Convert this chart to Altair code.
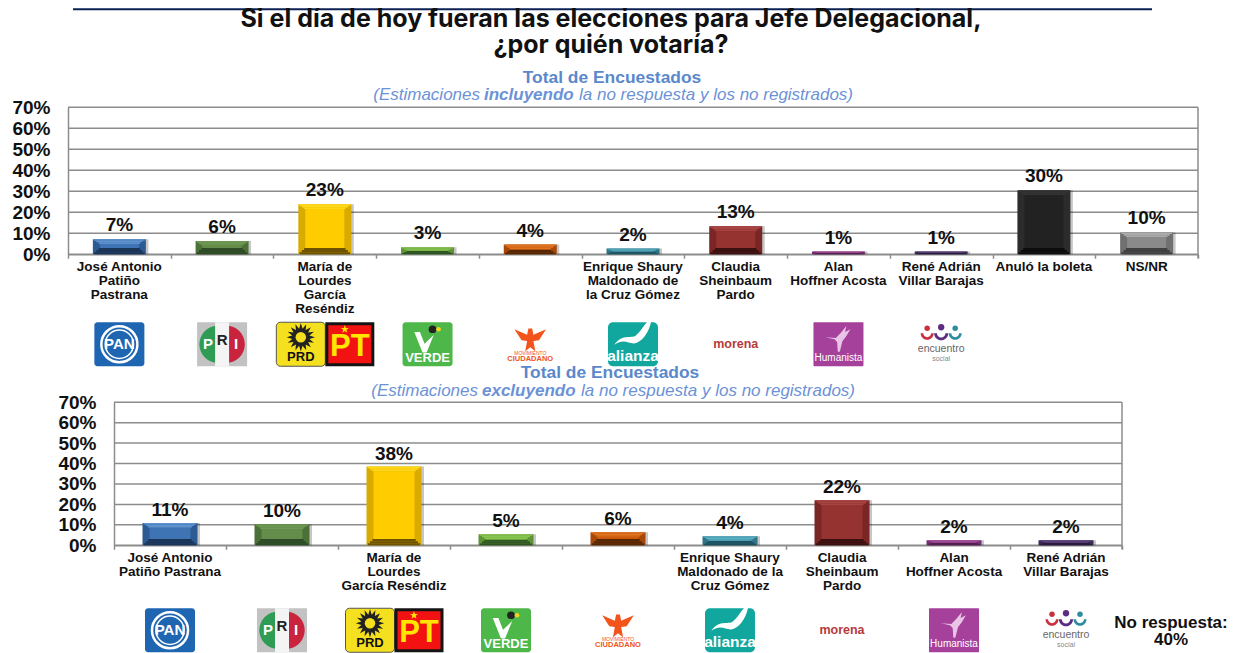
import math
import altair as alt
import pandas as pd

# ---------- data ----------
keys_top = ["PAN", "PRI", "PRDPT", "VERDE", "MC", "ALIANZA", "MORENA", "HUMANISTA", "ENCUENTRO", "ANULO", "NSNR"]
names_top = ["José Antonio\nPatiño\nPastrana", "", "María de\nLourdes\nGarcía\nReséndiz", "", "",
             "Enrique Shaury\nMaldonado de\nla Cruz Gómez", "Claudia\nSheinbaum\nPardo", "Alan\nHoffner Acosta",
             "René Adrián\nVillar Barajas", "Anuló la boleta", "NS/NR"]
values_top = [7.2, 6.3, 23.8, 3.3, 4.6, 2.7, 13.3, 1.3, 1.3, 30.5, 10.4]
labels_top = ["7%", "6%", "23%", "3%", "4%", "2%", "13%", "1%", "1%", "30%", "10%"]

keys_bot = keys_top[:9]
names_bot = ["José Antonio\nPatiño Pastrana", "", "María de\nLourdes\nGarcía Reséndiz", "", "",
             "Enrique Shaury\nMaldonado de la\nCruz Gómez", "Claudia\nSheinbaum\nPardo", "Alan\nHoffner Acosta",
             "René Adrián\nVillar Barajas"]
values_bot = [10.9, 10.3, 38.5, 5.4, 6.4, 4.4, 22.0, 2.4, 2.4]
labels_bot = ["11%", "10%", "38%", "5%", "6%", "4%", "22%", "2%", "2%"]
grid_values = [0, 10, 20, 30, 40, 50, 60, 70]

# bevel colours per party: main, top, bottom, side
palette = {
    "PAN": ("#3E74B4", "#5F93CF", "#1B3557", "#2C5A92"),
    "PRI": ("#648C4A", "#6F9A55", "#2E4A26", "#4B7038"),
    "PRDPT": ("#FFCC00", "#FFD91A", "#6E5200", "#D9AB00"),
    "VERDE": ("#78B144", "#88C652", "#2F5424", "#5E9435"),
    "MC": ("#CC5A0C", "#E2741F", "#552705", "#A84808"),
    "ALIANZA": ("#3E8DA3", "#5AAFC2", "#1D4F5E", "#317488"),
    "MORENA": ("#953331", "#A84441", "#3B1110", "#7A2624"),
    "HUMANISTA": ("#8E3D88", "#A5509E", "#4A1B46", "#752F70"),
    "ENCUENTRO": ("#4B3568", "#5E4680", "#241738", "#3B2953"),
    "ANULO": ("#222222", "#333333", "#0C0C0C", "#2C2C2C"),
    "NSNR": ("#8A8A8A", "#ABABAB", "#404040", "#707070"),
}

TXT = "#111111"
BLUE = "#5B88CB"
BLUE_I = "#6C92D6"
GRID = "#8C8C8C"
FONT = "Liberation Sans"
one = pd.DataFrame({"n": [0]})

X_AXIS = alt.Axis(labels=False, tickBand="extent", tickSize=4, tickColor=GRID, tickWidth=1.5,
                  domainColor=GRID, domainWidth=1.5, title=None, grid=False)


def y_axis(extent, offset):
    return alt.Axis(values=grid_values, labelExpr="datum.value + '%'", title=None, offset=offset,
                    tickSize=0, labelPadding=18, labelFont=FONT, labelFontSize=19, labelFontWeight="bold",
                    labelColor=TXT, grid=False,
                    domainColor=GRID, domainWidth=1.5, minExtent=extent, maxExtent=extent)


def table(keys, names, values, labels):
    return pd.DataFrame({
        "key": keys, "name": names, "value": values, "label": labels,
        "main": [palette[k][0] for k in keys], "top": [palette[k][1] for k in keys],
        "bottom": [palette[k][2] for k in keys], "side": [palette[k][3] for k in keys],
    })


def txt(t, x, y, size=12, color=TXT, bold=False, italic=False, align="center", baseline="middle", font=FONT):
    return alt.Chart(one).mark_text(
        text=t, font=font, fontSize=size, color=color,
        fontWeight="bold" if bold else "normal", fontStyle="italic" if italic else "normal",
        align=align, baseline=baseline,
    ).encode(x=alt.value(x), y=alt.value(y))


def star(n, r1=1.0, r2=0.62):
    pts = []
    for i in range(2 * n):
        r = r1 if i % 2 == 0 else r2
        a = math.pi * i / n
        pts.append(f"{r * math.sin(a):.3f},{-r * math.cos(a):.3f}")
    return "M" + " L".join(pts) + " Z"


HALF_L = "M0,-1 A1,1 0 0 0 0,1 Z"
HALF_R = "M0,-1 A1,1 0 0 1 0,1 Z"
HALF_D = "M-1,0 A1,1 0 0 0 1,0 L0.6,0 A0.6,0.6 0 0 1 -0.6,0 Z"
SWOOSH = "M-1,0.45 C-0.6,-0.1 -0.2,0.1 0.1,0 C0.4,-0.2 0.7,-0.8 1,-1 C0.95,-0.4 0.6,0.2 0.2,0.35 C-0.2,0.5 -0.4,0.05 -1,0.45 Z"
CHECK = "M-1,-1 L-0.45,-1 L0,0.15 L0.9,-0.7 L0.2,1 L-0.2,1 Z"
EAGLE = "M-1,-0.7 L-0.2,-0.35 L-0.12,-0.75 L0.12,-0.75 L0.2,-0.35 L1,-0.7 L0.55,0 L0.2,0.05 L0.32,0.7 L0,0.45 L-0.32,0.7 L-0.2,0.05 L-0.55,0 Z"
BIRD = "M-1,-0.15 L-0.2,-0.1 L0.15,-0.45 L0.6,-1 L0.5,-0.55 L0.9,-0.75 L0.6,-0.25 L0.3,0.15 L0.1,0.95 L-0.05,0.95 L-0.1,0.2 L-0.3,0 Z"


def logos(keys, xs, ly, h):
    df = pd.DataFrame({"key": keys})
    xe = alt.X("key:N", scale=xs, axis=X_AXIS)
    at = lambda k: alt.Chart(df[df.key == k])

    def box(k, color, w=50, off=0, y0=0, y1=h, r=3, **kw):
        return at(k).mark_bar(size=w, xOffset=off, color=color, cornerRadius=r, **kw).encode(
            x=xe, y=alt.value(ly + y0), y2=alt.value(ly + y1))

    def lab(k, t, dy, size, color, bold=True, dx=0):
        return at(k).mark_text(text=t, font=FONT, fontSize=size, color=color, dx=dx,
                               fontWeight="bold" if bold else "normal",
                               baseline="middle", align="center").encode(x=xe, y=alt.value(ly + dy))

    def sym(k, shape, size, dy, color=None, off=0, stroke=None, sw=1):
        kw = {"filled": True, "fill": color, "opacity": 1, "strokeWidth": 0} if color else {
            "filled": False, "stroke": stroke, "strokeWidth": sw, "opacity": 1}
        return at(k).mark_point(shape=shape, size=size, xOffset=off, **kw).encode(x=xe, y=alt.value(ly + dy))

    return [
        # PAN
        box("PAN", "#1F66B2"),
        sym("PAN", "circle", 1300, h / 2, stroke="#FFFFFF", sw=2.5),
        sym("PAN", "circle", 800, h / 2, stroke="#FFFFFF", sw=1.5),
        lab("PAN", "PAN", h / 2, 15, "#FFFFFF"),
        # PRI
        box("PRI", "#C2C2C2", r=0),
        sym("PRI", HALF_L, 1400, h / 2, "#2E9C55", off=-4),
        sym("PRI", HALF_R, 1400, h / 2, "#C9233E", off=4),
        box("PRI", "#F4F4F4", w=14, r=0),
        lab("PRI", "P", h / 2, 15, "#FFFFFF", dx=-14),
        lab("PRI", "R", h / 2 - 4, 15, "#222222"),
        lab("PRI", "I", h / 2, 15, "#FFFFFF", dx=14),
        # PRD + PT
        box("PRDPT", "#F4E01E", w=49, off=-24, r=4, stroke="#555555", strokeWidth=1),
        sym("PRDPT", star(16), 800, 15, "#222222", off=-24),
        sym("PRDPT", "circle", 110, 15, "#F4E01E", off=-24),
        lab("PRDPT", "PRD", 35, 13, "#111111", dx=-24),
        box("PRDPT", "#141414", w=49, off=25, r=0),
        box("PRDPT", "#F31212", w=43, off=25, y0=3, y1=h - 3, r=0),
        lab("PRDPT", "PT", 25, 31, "#FFE600", dx=25),
        sym("PRDPT", star(5, 1, 0.4), 70, 7, "#FFE600", off=20),
        # VERDE
        box("VERDE", "#4DB749"),
        sym("VERDE", CHECK, 420, 20, "#FFFFFF", off=-3),
        sym("VERDE", "circle", 60, 7, "#222222", off=5),
        sym("VERDE", "circle", 22, 7, "#F4D31F", off=11),
        lab("VERDE", "VERDE", 36, 13, "#FFFFFF"),
        # Movimiento Ciudadano
        sym("MC", EAGLE, 1000, 18, "#F2541B"),
        lab("MC", "MOVIMIENTO", 31, 5, "#F2541B", bold=False),
        lab("MC", "CIUDADANO", 37, 7.5, "#F2541B"),
        # Nueva Alianza
        box("ALIANZA", "#12A79E", r=5),
        sym("ALIANZA", SWOOSH, 1400, 14, "#FFFFFF"),
        lab("ALIANZA", "alianza", 34, 15.5, "#FFFFFF"),
        # Morena
        lab("MORENA", "morena", h / 2, 12.5, "#B43B3B"),
        # Humanista
        box("HUMANISTA", "#A5409B", r=1),
        sym("HUMANISTA", BIRD, 700, 17, "#E9C4E6"),
        lab("HUMANISTA", "Humanista", 36, 10, "#FFFFFF", bold=False),
        # Encuentro Social
        sym("ENCUENTRO", "circle", 30, 6, "#C9323D", off=-14),
        sym("ENCUENTRO", "circle", 40, 5, "#5B2E82"),
        sym("ENCUENTRO", "circle", 30, 6, "#2C8CA0", off=14),
        sym("ENCUENTRO", HALF_D, 170, 11, "#C9323D", off=-14),
        sym("ENCUENTRO", HALF_D, 200, 11, "#5B2E82"),
        sym("ENCUENTRO", HALF_D, 170, 11, "#2C8CA0", off=14),
        lab("ENCUENTRO", "encuentro", 27, 10.5, "#666666", bold=False),
        lab("ENCUENTRO", "social", 37, 7, "#888888", bold=False),
    ]


def bars(df, xs, w, gap, extent, offset, x0, x1, h, names_y):
    ys = alt.Scale(domain=[0, 70], nice=False)
    ya = y_axis(extent, offset)
    xe = alt.X("key:N", scale=xs, axis=X_AXIS)
    ye = alt.Y("y0:Q", scale=ys, axis=ya)
    base = alt.Chart(df).transform_calculate(
        bb="min(datum.value*0.5, 3.0)", bt="min(datum.value*0.5, 2.3)"
    )
    layers = []
    # grid and right border
    layers.append(alt.Chart(pd.DataFrame({"g": grid_values})).mark_rule(color=GRID, strokeWidth=1.5).encode(
        y=alt.Y("g:Q", scale=ys, axis=ya), x=alt.value(x0), x2=alt.value(x1)))
    layers.append(alt.Chart(one).mark_rule(color=GRID, strokeWidth=1.5).encode(
        x=alt.value(x1), y=alt.value(0), y2=alt.value(h + 4)))
    # shadow, side
    layers.append(base.transform_calculate(y0="0", y1="datum.value").mark_bar(
        size=w, xOffset=2.5, color="#000000", opacity=0.22).encode(x=xe, y=ye, y2="y1:Q"))
    layers.append(base.transform_calculate(y0="0", y1="datum.value").mark_bar(size=w).encode(
        x=xe, y=ye, y2="y1:Q", color=alt.Color("side:N", scale=None)))
    # chamfered top and bottom bevels, drawn as narrowing steps
    n, d = 3, 7
    for i in range(n):
        size = w - 2 * d * (i + 0.5) / n
        layers.append(base.transform_calculate(
            y0=f"datum.bb*{i}/{n}", y1=f"datum.bb*{i + 1}/{n}"
        ).mark_bar(size=size).encode(x=xe, y=ye, y2="y1:Q", color=alt.Color("bottom:N", scale=None)))
        layers.append(base.transform_calculate(
            y0=f"datum.value-datum.bt*{i + 1}/{n}", y1=f"datum.value-datum.bt*{i}/{n}"
        ).mark_bar(size=size).encode(x=xe, y=ye, y2="y1:Q", color=alt.Color("top:N", scale=None)))
    layers.append(base.transform_calculate(y0="datum.bb", y1="datum.value-datum.bt").mark_bar(size=w - 2 * d).encode(
        x=xe, y=ye, y2="y1:Q", color=alt.Color("main:N", scale=None)))
    # value labels
    layers.append(alt.Chart(df).mark_text(
        font=FONT, fontSize=19, fontWeight="bold", color=TXT, dy=-gap, baseline="alphabetic").encode(
        x=xe, y=alt.Y("value:Q", scale=ys, axis=ya), text="label:N"))
    # candidate names
    layers.append(alt.Chart(df).mark_text(
        font=FONT, fontSize=13.5, fontWeight="bold", color=TXT, baseline="top", lineBreak="\n", lineHeight=13.8).encode(
        x=xe, y=alt.value(names_y), text="name:N"))
    return layers


top_df = table(keys_top, names_top, values_top, labels_top)
bot_df = table(keys_bot, names_bot, values_bot, labels_bot)

# both panels share the origin at page x=68; the lower one starts its scale further right
L = 68
W1, H1, T1 = 1130, 147, 107
W2, H2, T2 = 1054, 143, 402
SHIFT2 = 46
xs1 = alt.Scale(type="band", domain=keys_top, paddingInner=0, paddingOuter=0, range=[0, W1])
xs2 = alt.Scale(type="band", domain=keys_bot, paddingInner=0, paddingOuter=0, range=[SHIFT2, W2])

top_layers = [
    alt.Chart(one).mark_rect(color="#0B2154").encode(
        x=alt.value(73 - L), x2=alt.value(1152 - L), y=alt.value(8 - T1), y2=alt.value(10 - T1)),
    txt("Si el día de hoy fueran las elecciones para Jefe Delegacional,", 611 - L, 27 - T1, 25, "#111111",
        bold=True, baseline="alphabetic", font="Inter"),
    txt("¿por quién votaría?", 611 - L, 53 - T1, 25, "#111111", bold=True, baseline="alphabetic", font="Inter"),
    txt("Total de Encuestados", 612 - L, 78 - T1, 17.4, BLUE, bold=True),
    txt("(Estimaciones", 480 - L, 95 - T1, 17, BLUE_I, italic=True, align="right"),
    txt("incluyendo", 484 - L, 95 - T1, 17, BLUE_I, bold=True, italic=True, align="left"),
    txt("la no respuesta y los no registrados)", 579 - L, 95 - T1, 17, BLUE_I, italic=True, align="left"),
] + bars(top_df, xs1, 53, 8, 60, 0, 0, W1, H1, H1 + 6) + logos(keys_top[:9], xs1, 322 - T1, 44)

bot_layers = [
    txt("Total de Encuestados", 610 - L, 373 - T2, 17.4, BLUE, bold=True),
    txt("(Estimaciones", 478 - L, 391 - T2, 17, BLUE_I, italic=True, align="right"),
    txt("excluyendo", 482 - L, 391 - T2, 17, BLUE_I, bold=True, italic=True, align="left"),
    txt("la no respuesta y los no registrados)", 581 - L, 391 - T2, 17, BLUE_I, italic=True, align="left"),
] + bars(bot_df, xs2, 55, 7, 0, -SHIFT2, SHIFT2, W2, H2, H2 + 6) + logos(keys_bot, xs2, 608 - T2, 44) + [
    txt("No respuesta:", 1171 - L, 623 - T2, 17, "#111111", bold=True),
    txt("40%", 1171 - L, 640 - T2, 17, "#111111", bold=True),
]

top = alt.layer(*top_layers).properties(width=W1, height=H1)
bot = alt.layer(*bot_layers).properties(width=W2, height=H2)

chart = alt.vconcat(top, bot, spacing=-4).properties(
    padding={"left": 0, "top": -0.75, "right": 0, "bottom": 0}, background="#FFFFFF"
).configure_view(stroke=None)

chart.save("out.html", embed_options={"renderer": "svg", "actions": False})
